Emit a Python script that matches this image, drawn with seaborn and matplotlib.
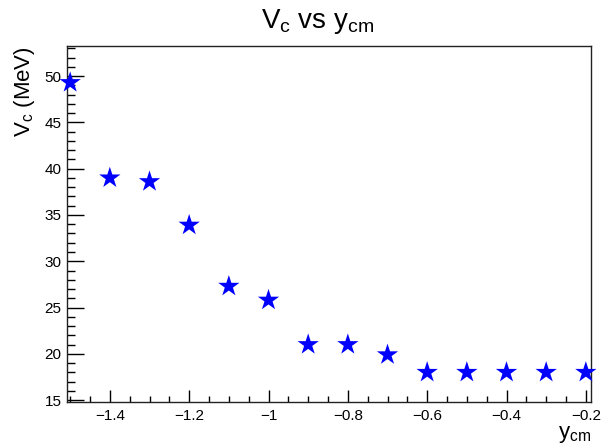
import matplotlib
matplotlib.use("Agg")
import matplotlib.pyplot as plt
import seaborn as sns
import pandas as pd
from matplotlib.ticker import MultipleLocator

ycm = [-1.5, -1.4, -1.3, -1.2, -1.1, -1.0, -0.9, -0.8, -0.7, -0.6, -0.5, -0.4, -0.3, -0.2]
vc = [49.3, 39.0, 38.6, 33.9, 27.3, 25.8, 21.0, 21.0, 19.9, 18.0, 18.0, 18.0, 18.0, 18.0]
xticks = [-1.4, -1.2, -1.0, -0.8, -0.6, -0.4, -0.2]
xticklabels = ["\u22121.4", "\u22121.2", "\u22121", "\u22120.8", "\u22120.6", "\u22120.4", "\u22120.2"]
yticks = [15, 20, 25, 30, 35, 40, 45, 50]

sns.set_style("ticks")
plt.rcParams["font.family"] = ["Liberation Sans", "DejaVu Sans"]
plt.rcParams["mathtext.fontset"] = "custom"
plt.rcParams["mathtext.rm"] = "Liberation Sans"
plt.rcParams["mathtext.it"] = "Liberation Sans:italic"
plt.rcParams["text.color"] = "black"
plt.rcParams["axes.labelcolor"] = "black"

df = pd.DataFrame({"ycm": ycm, "vc": vc})

fig = plt.figure(figsize=(6.11, 4.45), dpi=100)
ax = fig.add_axes([67/611, 1-402/445, (591-67)/611, (402-46)/445])
sns.scatterplot(data=df, x="ycm", y="vc", ax=ax, marker="*", s=260,
                color="#0000ff", edgecolor="none", linewidth=0, zorder=3, clip_on=False)

ax.set_xlim(-1.508, -0.187)
ax.set_ylim(14.8, 53.25)
ax.set_xticks(xticks)
ax.set_xticklabels(xticklabels)
ax.set_yticks(yticks)
ax.xaxis.set_minor_locator(MultipleLocator(0.05))
ax.yaxis.set_minor_locator(MultipleLocator(1))
ax.tick_params(axis="both", which="both", direction="in", top=False, right=False,
               labelsize=11, colors="black", width=1)
ax.tick_params(axis="y", which="major", length=12, pad=4)
ax.tick_params(axis="y", which="minor", length=6)
ax.tick_params(axis="x", which="major", length=9, pad=5)
ax.tick_params(axis="x", which="minor", length=4.5)
for sp in ax.spines.values():
    sp.set_visible(True)
    sp.set_color("#222222")
    sp.set_linewidth(1)

ax.set_xlabel(r"y$_{\mathregular{cm}}$", fontsize=16, loc="right", labelpad=1, color="black")
ax.set_ylabel(r"V$_{\mathregular{c}}$ (MeV)", fontsize=16, loc="top", labelpad=5, color="black")
fig.text(0.52, 1-28/445, r"V$_{\mathregular{c}}$ vs y$_{\mathregular{cm}}$", fontsize=20,
         ha="center", va="baseline", color="black")

fig.savefig("out.png", dpi=100)
